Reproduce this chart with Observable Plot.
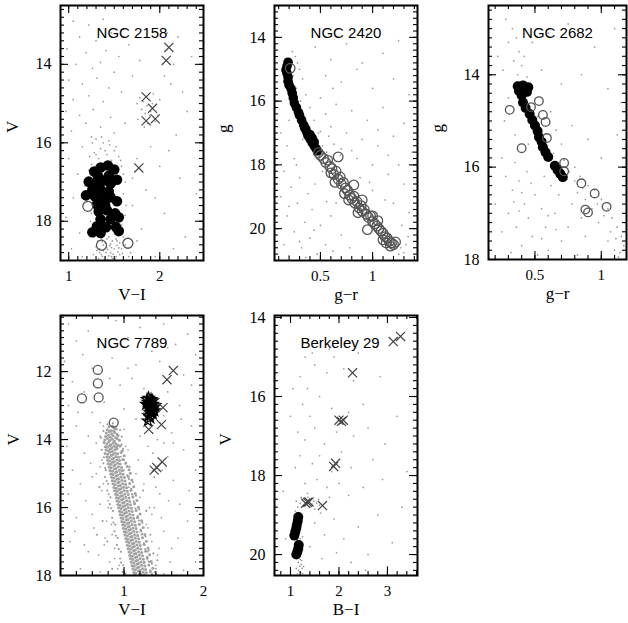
<!DOCTYPE html>
<html><head><meta charset="utf-8">
<script src="https://cdn.jsdelivr.net/npm/d3@7"></script>
<script src="https://cdn.jsdelivr.net/npm/@observablehq/plot@0.6"></script>
<style>
body{margin:0;background:#fff;}
#wrap{position:relative;width:628px;height:623px;overflow:hidden;background:#fff;}
.pan{position:absolute;}
#wrap svg, #wrap svg text{font-family:"Liberation Serif", "Times New Roman", serif;}
#wrap svg text.ttl{font-family:"Liberation Sans", Arial, sans-serif;}
</style></head><body><div id="wrap"></div>
<script>
// ---------- NGC 2158 ----------
const bg2158 = [[1.05,12.9],[1.22,13.0],[1.38,12.85],[1.6,13.1],[1.12,13.3],[1.3,13.4],[1.47,13.2],[0.98,13.6],[1.19,13.7],[1.41,13.65],[1.55,13.8],[1.08,14.0],[1.26,14.1],[1.35,13.95],[1.5,14.2],[1.0,14.4],[1.15,14.5],[1.31,14.35],[1.44,14.6],[1.22,14.8],[1.05,14.9],[1.38,14.95],[1.58,14.7],[0.97,15.2],[1.12,15.3],[1.27,15.15],[1.46,15.35],[1.19,15.5],[1.35,15.6],[1.03,15.7],[1.5,15.75],[1.25,15.85],[1.62,15.5],[1.7,14.3],[1.66,13.5],[1.78,13.9],
[1.78,14.85],[1.82,14.95],[1.86,15.05],[1.8,15.15],[1.84,15.25],[1.89,15.3],[1.92,15.0],[1.95,15.45],[1.87,15.5],[1.76,15.4],[1.9,15.2],[1.83,15.6],[1.98,15.3],[2.0,14.9],[1.75,15.0],[1.93,14.75],
[2.05,14.3],[2.12,14.5],[2.15,14.0],[2.2,13.3],[2.08,13.2],[2.25,14.7],[2.18,15.8],[2.3,15.2],[2.35,13.8],[2.1,16.2],[2.22,16.9],[2.4,17.3],[2.05,17.8],[2.28,18.4],[1.95,18.9],[2.15,18.7],[1.9,16.1],[1.75,16.4],[1.85,17.2],[1.7,17.6],[1.8,18.2],[1.68,18.8],[2.0,16.6],[1.95,17.4],
[1.3,15.9],[1.38,16.0],[1.45,16.05],[1.35,16.15],[1.28,16.25],[1.42,16.3],[1.5,16.2],[1.33,16.4],[1.47,16.45],[1.55,16.35],[1.25,16.55],[1.58,16.6],[1.6,16.8],[1.22,16.7],[1.62,17.0],[1.18,17.1],[1.6,17.3],[1.2,17.5],[1.63,17.6],[1.25,17.8],[1.62,17.85],[1.24,18.0],[1.58,18.1],[1.28,18.4],[1.32,18.5],[1.36,18.45],[1.4,18.55],[1.44,18.4],[1.48,18.5],[1.52,18.45],[1.56,18.55],[1.6,18.4],[1.3,18.65],[1.34,18.7],[1.38,18.75],[1.42,18.68],[1.46,18.8],[1.5,18.7],[1.54,18.78],[1.58,18.7],[1.36,18.85],[1.4,18.92],[1.44,18.88],[1.48,18.95],[1.52,18.9],[1.56,18.85],[1.33,18.95],[1.38,18.6],[1.45,18.62],[1.53,18.62],[1.41,18.8],[1.47,18.67],[1.43,18.97],[1.35,18.35],[1.5,18.32],[1.62,18.6],[1.27,18.85],[1.66,18.9],[1.55,16.9],[1.3,16.3],[1.4,16.2],
[1.37,18.52],[1.43,18.72],[1.49,18.84],[1.39,18.98],[1.46,18.58],[1.51,18.96],[1.34,18.8],[1.55,18.68],[1.42,18.45],[1.37,18.9],[1.47,18.9],[1.53,18.5],[1.31,18.75],[1.59,18.82],[1.26,16.0],[1.36,15.85],[1.44,15.95],[1.52,16.1],[1.23,16.35],[1.57,16.45],
[1.0,16.4],[1.1,16.8],[1.05,17.4],[0.97,17.9],[1.12,18.3],[1.03,18.7],[1.15,16.1],[1.7,16.9],[1.75,18.5],[1.15,18.9]];
const black2158 = [[1.28,16.73],[1.35,16.63],[1.43,16.58],[1.5,16.68],[1.32,16.84],[1.44,16.84],[1.22,16.99],[1.3,17.01],[1.39,16.96],[1.46,17.04],[1.53,16.94],[1.26,17.19],[1.35,17.19],[1.44,17.24],[1.19,17.34],[1.29,17.37],[1.37,17.42],[1.46,17.39],[1.53,17.49],[1.31,17.57],[1.4,17.59],[1.33,17.75],[1.42,17.72],[1.51,17.8],[1.35,17.95],[1.46,17.95],[1.55,17.9],[1.31,18.13],[1.41,18.15],[1.52,18.15],[1.26,18.28],[1.35,18.3],[1.55,18.25]];
const open2158 = [[1.21,17.62],[1.36,18.61],[1.65,18.56]];
const cross2158 = [[2.1,13.57],[2.07,13.9],[1.85,14.83],[1.92,15.12],[1.85,15.44],[1.95,15.39],[1.77,16.64]];

// ---------- NGC 2420 ----------
const bg2420 = [[0.23,14.45],[0.26,14.6],[0.28,14.8],[0.3,15.0],[0.24,15.2],[0.33,15.3],[0.27,15.6],[0.36,15.8],[0.31,16.0],[0.4,16.2],[0.35,16.5],[0.44,16.6],[0.4,16.9],[0.48,17.0],[0.45,17.3],[0.52,17.4],[0.56,17.6],[0.6,17.9],[0.64,18.0],[0.68,18.3],[0.72,18.5],[0.76,18.6],[0.8,18.8],[0.84,19.0],[0.87,19.1],[0.91,19.3],[0.95,19.4],[0.99,19.6],[1.03,19.7],[1.07,19.9],[1.11,20.0],[1.15,20.2],[1.19,20.3],[1.23,20.5],[1.27,20.6],[1.3,20.75],[1.25,20.8],[1.2,20.65],[1.32,20.5],
[0.45,14.3],[0.6,14.7],[0.75,14.2],[0.95,13.9],[1.1,14.5],[1.25,14.1],[0.55,15.2],[0.7,15.4],[0.85,15.0],[1.0,15.6],[1.2,15.3],[1.35,15.8],[0.5,15.9],[0.65,16.1],[0.8,16.3],[0.95,16.6],[1.1,16.2],[1.3,16.7],[0.6,16.8],[0.75,17.0],[0.9,17.2],[1.05,17.4],[1.2,17.1],[1.38,17.6],[0.7,17.5],[0.85,17.8],[1.0,18.0],[1.15,18.3],[1.3,18.6],[1.0,18.8],[1.2,19.2],[1.35,19.5],[0.55,16.4],[0.62,15.6],[0.9,14.8],[1.05,16.9],[1.25,18.0],
[0.12,17.0],[0.18,17.4],[0.25,17.8],[0.15,18.2],[0.3,18.4],[0.22,18.7],[0.38,18.9],[0.12,19.0],[0.28,19.2],[0.42,19.4],[0.18,19.6],[0.35,19.8],[0.5,19.9],[0.1,20.0],[0.25,20.1],[0.4,20.3],[0.55,20.5],[0.15,20.5],[0.32,20.6],[0.47,20.8],[0.62,20.7],[0.2,20.85],[0.7,20.2],[0.6,19.6],[0.45,18.6],[0.33,17.2],[0.1,16.0],[0.15,15.4],[0.2,16.6],[0.08,18.6],[0.36,20.9],[0.78,20.6],[0.65,19.2],[0.52,18.2],
[0.55,17.8],[0.62,18.15],[0.7,18.45],[0.78,18.75],[0.86,19.2],[0.93,19.5],[1.01,19.8],[1.09,20.1],[1.17,20.4],[0.66,18.5],[0.74,18.9],[0.82,19.25],[0.9,19.6],[0.98,19.9],[1.06,20.2],[1.14,20.5],
[0.58,17.1],[0.63,17.35],[0.69,17.7],[0.5,16.95],[0.27,18.0],[0.2,19.3],[0.44,20.05],[0.3,20.4],[0.56,19.15],[0.88,18.4],[0.97,18.55],[1.12,19.1],[1.28,19.9],[1.34,20.25],[0.8,17.55],[1.15,17.7]];
const black2420 = [[0.19,14.78],[0.18,14.9],[0.17,15.02],[0.18,15.13],[0.19,15.25],[0.19,15.38],[0.2,15.5],[0.22,15.62],[0.23,15.75],[0.24,15.9],[0.25,16.06],[0.27,16.2],[0.29,16.35],[0.3,16.45],[0.32,16.6],[0.34,16.75],[0.35,16.85],[0.37,16.98],[0.38,17.08],[0.4,17.18],[0.42,17.3],[0.44,17.4],[0.46,17.5],[0.47,17.56],[0.36,16.88],[0.4,17.05],[0.42,17.15],[0.44,17.28]];
const open2420 = [[0.21,14.97],[0.48,17.62],[0.5,17.7],[0.53,17.8],[0.55,17.92],[0.57,17.85],[0.59,18.05],[0.61,18.12],[0.6,18.25],[0.63,18.3],[0.65,18.2],[0.67,18.45],[0.69,18.38],[0.7,18.6],[0.72,18.55],[0.74,18.72],[0.76,18.8],[0.73,18.9],[0.78,18.95],[0.8,19.05],[0.82,18.98],[0.83,19.2],[0.85,19.15],[0.87,19.35],[0.89,19.28],[0.9,19.45],[0.92,19.4],[0.94,19.55],[0.96,19.65],[0.98,19.6],[1.0,19.78],[1.02,19.85],[1.04,19.92],[1.06,20.0],[1.08,20.08],[1.1,20.15],[1.12,20.25],[1.14,20.3],[1.16,20.4],[1.18,20.45],[1.2,20.5],[1.17,20.55],[1.22,20.42],[1.13,20.45],[0.67,17.75],[0.82,18.63],[0.9,19.1],[0.95,20.03],[1.0,19.6],[1.05,19.75],[0.64,18.55],[0.86,19.5],[0.77,19.1],[1.1,20.35]];

// ---------- NGC 2682 ----------
const bg2682 = [[0.28,12.8],[0.33,13.0],[0.3,13.3],[0.36,13.2],[0.38,13.5],[0.34,13.7],[0.4,13.8],[0.42,13.6],[0.37,14.0],[0.44,14.05],[0.26,13.9],[0.22,13.6],[0.48,13.3],[0.6,13.1],[0.75,12.9],[0.95,13.4],[1.1,13.0],[0.55,13.9],[0.7,14.2],[0.85,14.0],[1.05,14.3],[1.15,14.6],
[0.3,14.5],[0.27,15.0],[0.35,15.3],[0.45,15.5],[0.25,15.8],[0.52,14.9],[0.62,14.8],[0.66,15.2],[0.7,15.5],[0.78,15.1],[0.9,15.4],[1.0,15.8],[1.12,15.3],[0.64,15.7],[0.72,15.85],[0.8,16.0],[0.84,16.2],[0.9,16.4],[0.95,16.5],[1.0,16.7],[1.05,16.9],[1.08,17.1],[1.12,17.3],[1.15,17.5],[1.17,17.7],[1.1,17.8],[1.05,17.6],[0.98,17.2],[0.93,16.9],[0.88,16.7],[0.82,16.55],[1.13,17.95],[1.18,17.2],
[0.28,16.2],[0.33,16.5],[0.38,16.3],[0.42,16.8],[0.3,17.0],[0.36,17.3],[0.45,17.1],[0.5,16.6],[0.55,16.9],[0.48,17.5],[0.58,17.3],[0.62,16.4],[0.65,17.0],[0.7,17.6],[0.4,17.7],[0.32,17.85],[0.52,17.9],[0.6,17.8],[0.75,17.3],[0.78,16.8],[0.68,16.6],[0.44,16.1],[0.35,15.9],[0.57,16.2],[0.25,17.4],[0.2,16.8],[0.82,17.9],[0.88,17.5],[0.72,16.2],[0.53,15.6],[0.47,16.35],[0.6,17.05],[0.38,16.95],[0.66,17.35],[0.85,17.1],
[0.86,16.45],[0.97,16.8],[1.02,17.05],[1.07,17.4],[1.11,17.55],[1.14,17.85],[0.92,16.62],[0.76,16.1],[0.8,16.3],[0.4,16.55],[0.55,17.55],[0.34,16.75]];
const black2682 = [[0.37,14.25],[0.41,14.23],[0.45,14.27],[0.38,14.35],[0.44,14.37],[0.4,14.45],[0.41,14.6],[0.43,14.72],[0.46,14.85],[0.48,14.98],[0.5,15.1],[0.52,15.22],[0.53,15.35],[0.55,15.45],[0.56,15.57],[0.58,15.68],[0.6,15.78],[0.65,15.97],[0.67,16.06],[0.69,16.14],[0.71,16.22]];
const open2682 = [[0.53,14.57],[0.31,14.76],[0.47,14.7],[0.56,14.87],[0.58,15.02],[0.59,15.37],[0.4,15.59],[0.72,15.91],[0.72,16.09],[0.85,16.35],[0.95,16.57],[1.04,16.86],[0.88,16.92],[0.9,16.98]];

// ---------- NGC 7789 ----------
const ms7789 = [[0.81,13.62],[0.855,13.6],[0.875,13.67],[0.79,13.71],[0.833,13.73],[0.868,13.75],[0.902,13.69],[0.776,13.81],[0.814,13.77],[0.842,13.83],[0.883,13.79],[0.912,13.85],[0.768,13.91],[0.803,13.87],[0.828,13.93],[0.861,13.89],[0.894,13.95],[0.924,13.88],[0.758,14.01],[0.792,13.97],[0.821,14.03],[0.853,13.99],[0.879,14.05],[0.915,13.98],[0.943,14.02],
[0.748,14.09],[0.782,14.13],[0.806,14.07],[0.834,14.15],[0.862,14.1],[0.896,14.12],[0.925,14.17],[0.763,14.21],[0.789,14.23],[0.818,14.18],[0.845,14.25],[0.873,14.2],[0.904,14.22],[0.951,14.19],[0.772,14.31],[0.803,14.33],[0.827,14.28],[0.852,14.35],[0.884,14.3],[0.912,14.27],[0.978,14.33],[0.761,14.41],[0.794,14.43],[0.823,14.37],[0.857,14.45],[0.886,14.4],[0.918,14.42],[0.962,14.38],[0.782,14.51],[0.812,14.53],[0.838,14.47],[0.866,14.55],[0.898,14.5],[0.932,14.52],[1.003,14.48],
[0.793,14.61],[0.822,14.63],[0.851,14.57],[0.877,14.65],[0.909,14.6],[0.943,14.62],[0.984,14.59],[0.801,14.71],[0.832,14.73],[0.858,14.67],[0.888,14.75],[0.918,14.7],[0.951,14.72],[1.022,14.69],[0.812,14.81],[0.838,14.83],[0.871,14.77],[0.899,14.85],[0.929,14.8],[0.968,14.82],[1.041,14.79],[0.822,14.91],[0.853,14.93],[0.878,14.87],[0.907,14.95],[0.942,14.9],[0.978,14.92],[1.062,14.89],
[0.832,15.01],[0.861,15.03],[0.893,14.97],[0.918,15.05],[0.951,15.0],[0.987,15.02],[1.078,14.99],[0.843,15.11],[0.872,15.13],[0.898,15.07],[0.931,15.15],[0.962,15.1],[1.003,15.12],[1.052,15.09],[0.852,15.21],[0.883,15.23],[0.911,15.17],[0.938,15.25],[0.972,15.2],[1.012,15.22],[1.098,15.19],[0.861,15.31],[0.889,15.33],[0.922,15.27],[0.952,15.35],[0.981,15.3],[1.019,15.32],[1.071,15.29],[0.872,15.41],[0.901,15.43],[0.928,15.37],[0.961,15.45],[0.992,15.4],[1.032,15.42],[1.122,15.39],
[0.882,15.51],[0.912,15.53],[0.939,15.47],[0.968,15.55],[1.002,15.5],[1.041,15.52],[1.088,15.49],[0.893,15.61],[0.918,15.63],[0.951,15.57],[0.981,15.65],[1.011,15.6],[1.052,15.62],[1.141,15.59],[0.902,15.71],[0.932,15.73],[0.958,15.67],[0.991,15.75],[1.022,15.7],[1.062,15.72],[1.112,15.69],[0.911,15.81],[0.941,15.83],[0.969,15.77],[1.001,15.85],[1.032,15.8],[1.071,15.82],[1.162,15.79],[0.922,15.91],[0.949,15.93],[0.982,15.87],[1.012,15.95],[1.042,15.9],[1.081,15.92],[1.132,15.89],
[0.931,16.01],[0.962,16.03],[0.988,15.97],[1.021,16.05],[1.052,16.0],[1.092,16.02],[1.181,15.99],[0.942,16.11],[0.969,16.13],[1.001,16.07],[1.029,16.15],[1.061,16.1],[1.101,16.12],[1.152,16.09],[0.951,16.21],[0.982,16.23],[1.008,16.17],[1.041,16.25],[1.072,16.2],[1.112,16.22],[1.202,16.19],[0.962,16.31],[0.988,16.33],[1.021,16.27],[1.049,16.35],[1.082,16.3],[1.121,16.32],[1.172,16.29],[0.971,16.41],[1.002,16.43],[1.028,16.37],[1.061,16.45],[1.092,16.4],[1.132,16.42],[1.222,16.39],
[0.982,16.51],[1.009,16.53],[1.042,16.47],[1.068,16.55],[1.101,16.5],[1.142,16.52],[1.192,16.49],[0.991,16.61],[1.022,16.63],[1.048,16.57],[1.081,16.65],[1.112,16.6],[1.151,16.62],[1.242,16.59],[1.002,16.71],[1.028,16.73],[1.061,16.67],[1.089,16.75],[1.122,16.7],[1.162,16.72],[1.212,16.69],[1.011,16.81],[1.042,16.83],[1.068,16.77],[1.101,16.85],[1.132,16.8],[1.171,16.82],[1.262,16.79],[1.022,16.91],[1.049,16.93],[1.081,16.87],[1.109,16.95],[1.142,16.9],[1.182,16.92],[1.232,16.89],
[1.031,17.01],[1.062,17.03],[1.088,16.97],[1.121,17.05],[1.152,17.0],[1.192,17.02],[1.282,16.99],[1.042,17.11],[1.069,17.13],[1.101,17.07],[1.129,17.15],[1.162,17.1],[1.202,17.12],[1.252,17.09],[1.051,17.21],[1.082,17.23],[1.108,17.17],[1.141,17.25],[1.172,17.2],[1.212,17.22],[1.302,17.19],[1.062,17.31],[1.088,17.33],[1.121,17.27],[1.149,17.35],[1.182,17.3],[1.221,17.32],[1.272,17.29],[1.071,17.41],[1.102,17.43],[1.128,17.37],[1.161,17.45],[1.192,17.4],[1.232,17.42],[1.322,17.39],
[1.082,17.51],[1.109,17.53],[1.142,17.47],[1.168,17.55],[1.201,17.5],[1.242,17.52],[1.292,17.49],[1.091,17.61],[1.122,17.63],[1.148,17.57],[1.181,17.65],[1.212,17.6],[1.251,17.62],[1.342,17.59],[1.102,17.71],[1.128,17.73],[1.161,17.67],[1.189,17.75],[1.222,17.7],[1.262,17.72],[1.312,17.69],[1.111,17.81],[1.142,17.83],[1.168,17.77],[1.201,17.85],[1.232,17.8],[1.271,17.82],[1.362,17.79],[1.122,17.91],[1.149,17.93],[1.181,17.87],[1.209,17.95],[1.242,17.9],[1.282,17.92],[1.332,17.89],[1.131,17.98],[1.192,17.97],[1.252,17.98]];
const msEdge7789 = [[0.72,14.3],[0.74,14.7],[0.76,15.1],[0.79,15.5],[0.82,15.9],[0.85,16.3],[0.88,16.7],[0.91,17.1],[0.95,17.5],[0.98,17.9],[0.97,14.15],[1.0,14.6],[1.04,15.05],[1.09,15.45],[1.13,15.85],[1.17,16.25],[1.21,16.65],[1.25,17.05],[1.29,17.45],[1.33,17.85],[0.77,14.9],[0.8,15.3],[0.83,15.7],[0.86,16.1],[0.89,16.5],[0.92,16.9],[0.96,17.3],[0.99,17.7],[1.07,14.8],[1.11,15.25],[1.15,15.65],[1.19,16.05],[1.23,16.45],[1.27,16.85],[1.31,17.25],[1.35,17.65],[1.4,17.95],[1.02,17.95],[1.24,15.5],[1.28,16.1],[1.33,16.8],[1.37,17.35],[1.42,17.55],[0.73,16.4],[0.79,17.0],[0.85,17.8],[0.69,15.4],[0.66,16.8],
[0.745,14.52],[0.762,14.84],[0.781,15.22],[0.807,15.61],[0.838,16.02],[0.866,16.44],[0.897,16.83],[0.934,17.22],[0.962,17.62],[0.993,17.84],[0.986,14.27],[1.018,14.71],[1.061,15.16],[1.104,15.62],[1.143,16.03],[1.186,16.38],[1.228,16.78],[1.267,17.22],[1.308,17.58],[1.352,17.96],[0.71,13.95],[0.74,13.75],[0.95,13.72],[0.97,13.92],[0.79,13.55],[0.86,13.52]];
const field7789 = [[0.3,10.6],[0.55,10.8],[0.9,10.5],[1.2,10.7],[1.5,10.6],[1.8,10.9],[0.4,11.1],[0.75,11.3],[1.05,11.0],[1.35,11.4],[1.65,11.2],[1.9,11.5],[0.25,11.7],[0.6,11.9],[0.85,11.6],[1.15,11.8],[1.45,11.7],[1.75,12.1],[0.35,12.3],[0.5,12.6],[0.95,12.4],[1.1,12.2],[1.25,12.5],[1.55,12.6],[1.85,12.4],[0.3,13.0],[0.6,13.2],[0.75,12.9],[1.0,13.1],[1.15,13.4],[1.5,13.3],[1.7,13.0],[1.95,13.2],[0.4,13.6],[0.55,13.9],[0.7,13.5],[1.0,13.7],[1.2,13.9],[1.6,13.8],[1.85,13.6],[0.28,14.2],[0.5,14.4],[0.65,14.1],[1.05,14.3],[1.18,14.6],[1.3,14.2],[1.55,14.5],[1.75,14.3],[0.35,14.9],[0.6,15.1],[0.7,14.8],[1.15,15.0],[1.25,15.3],[1.38,15.1],[1.62,15.2],[1.9,14.9],[0.3,15.6],[0.52,15.8],[0.72,15.5],[0.8,16.0],[1.2,15.7],[1.32,16.0],[1.45,15.6],[1.7,15.9],[0.4,16.3],[0.62,16.6],[0.78,16.4],[0.85,16.8],[1.28,16.5],[1.35,16.2],[1.5,16.7],[1.8,16.4],[0.32,17.0],[0.55,17.3],[0.75,17.1],[0.88,17.5],[1.35,17.0],[1.42,17.4],[1.6,17.2],[1.9,17.6],[0.45,17.8],[0.7,17.9],[0.92,17.8],[1.4,17.8],[1.5,17.95],[1.75,17.85],
[1.3,12.7],[1.4,12.9],[1.45,13.5],[1.36,13.8],[1.25,13.2],[1.42,14.0],[1.5,14.1],[1.36,14.4],[1.48,14.9],[1.4,15.4],[1.56,15.8],[1.3,16.6],[1.44,17.2],[1.38,16.0],[1.26,17.6],[1.47,16.3],
[0.96,14.5],[1.0,14.9],[1.06,15.4],[1.12,15.8],[1.16,16.3],[1.22,16.8],[1.26,17.1],[1.32,17.6],[1.38,17.9],[1.02,14.2],[1.1,15.6],[1.2,16.5],[1.3,17.3],[1.4,17.7],
[0.72,14.6],[0.74,15.3],[0.8,15.8],[0.84,16.5],[0.88,17.2],[0.94,17.7],[0.7,15.9],[0.76,16.9],[0.82,17.6],[0.68,17.4],[0.65,15.0],[0.6,16.2],[0.7,13.9],[0.74,13.6],
[0.45,15.3],[0.38,16.7],[0.5,17.1],[0.58,14.7],[0.42,13.2],[0.62,12.4],[1.62,14.1],[1.68,16.9],[1.58,17.6],[1.82,15.5],[1.92,16.1],[1.72,13.4],[1.55,11.3],[1.05,11.9],[0.82,12.2],[0.48,11.5]];
const open7789 = [[0.67,11.95],[0.67,12.35],[0.68,12.76],[0.47,12.79],[0.87,13.5]];
const star7789 = [[1.29,12.82],[1.31,12.78],[1.34,12.82],[1.36,12.86],[1.3,12.9],[1.33,12.92],[1.36,12.96],[1.31,13.0],[1.34,13.02],[1.37,13.06],[1.32,13.1],[1.35,13.12],[1.38,13.15],[1.33,13.2],[1.36,13.24],[1.31,13.3],[1.33,13.36],[1.3,13.45],[1.39,13.0],[1.28,12.96],[1.32,13.05],[1.35,13.17]];
const cross7789 = [[1.62,11.97],[1.54,12.24],[1.49,13.06],[1.47,13.56],[1.31,13.7],[1.48,14.66],[1.41,14.82],[1.38,14.9]];

// ---------- Berkeley 29 ----------
const bgB29 = [[1.15,19.95],[1.18,20.05],[1.2,20.12],[1.16,20.2],[1.22,20.25],[1.19,20.3],[1.24,20.35],[1.17,20.4],[1.21,20.45],[1.25,20.48],[1.2,20.52],[1.14,20.5],[1.23,20.15],[1.27,20.3],[1.12,20.35],[1.18,19.85],[1.22,19.7],[1.2,19.6],[1.14,19.45],[1.25,19.55],
[1.1,18.9],[1.15,18.8],[1.2,18.7],[1.25,18.62],[1.3,18.58],[1.36,18.55],[1.42,18.6],[1.48,18.65],[1.54,18.7],[1.6,18.75],[1.28,18.75],[1.4,18.8],[1.5,18.85],[1.22,18.55],[1.33,18.68],[1.45,18.72],[1.18,18.95],[1.35,18.45],[1.58,18.6],[1.08,19.0],[1.12,18.65],
[1.3,15.0],[1.2,15.5],[1.5,15.2],[1.35,15.8],[1.75,15.4],[1.9,15.0],[2.1,15.3],[2.3,15.6],[1.25,16.2],[1.4,16.5],[1.6,16.0],[1.85,16.3],[2.2,16.4],[2.5,16.2],[1.15,16.9],[1.3,17.1],[1.5,16.8],[1.7,17.2],[1.95,16.9],[2.3,17.0],[2.6,16.8],[1.2,17.5],[1.45,17.7],[1.6,17.5],[1.85,17.9],[2.05,17.4],[2.25,17.8],[2.7,17.6],[1.3,18.2],[1.55,18.1],[1.75,18.3],[2.0,18.2],[2.2,18.5],[2.5,18.3],[2.9,18.1],[1.5,19.2],[1.7,19.5],[1.9,19.1],[2.1,19.6],[2.4,19.3],[2.8,19.0],[1.4,19.8],[1.65,20.1],[1.95,19.95],[2.25,20.2],[2.6,20.0],[3.1,19.7],[3.3,18.8],[2.95,17.2],[3.2,16.5],[2.85,15.5],[1.05,15.8],[1.1,17.8],[1.45,14.9],[1.25,14.6],[1.8,14.8],[3.0,20.3],[2.55,20.4],[0.9,19.6],[0.85,18.4],[1.0,16.5],[1.62,18.95],[1.8,18.55],[2.4,14.9],[3.4,17.9]];
const blackB29 = [[1.16,19.05],[1.15,19.15],[1.13,19.25],[1.12,19.33],[1.1,19.42],[1.08,19.52],[1.17,19.76],[1.16,19.85],[1.14,19.93],[1.12,20.0]];
const crossB29 = [[3.27,14.48],[3.12,14.61],[2.28,15.4],[2.0,16.6],[2.05,16.63],[2.09,16.6],[1.93,17.69],[1.89,17.77],[1.31,18.7],[1.35,18.68],[1.38,18.67],[1.66,18.76]];

// ---------- helpers ----------
function minorTicks(lo, hi, step) {
  const out = [];
  const n0 = Math.ceil(lo / step - 1e-6), n1 = Math.floor(hi / step + 1e-6);
  for (let i = n0; i <= n1; i++) out.push(+(i * step).toFixed(4));
  return out.filter(v => v > lo + 1e-6 && v < hi - 1e-6);
}
const SERIF = "Liberation Serif";
const X = d => d[0], Y = d => d[1];
const gray = (data, r = 0.85, fill = "#999") => Plot.dot(data, {x: X, y: Y, r, fill, stroke: null});
const blackDots = (data, r = 5) => Plot.dot(data, {x: X, y: Y, r, fill: "black", stroke: null});
const openDots = (data, r = 4.6) => Plot.dot(data, {x: X, y: Y, r, fill: "none", stroke: "#555", strokeWidth: 1.3});
const crosses = (data) => Plot.dot(data, {x: X, y: Y, r: 4.2, symbol: "times", stroke: "#444", strokeWidth: 1.2});

function panel(c) {
  const iw = c.width - c.ml - c.mr, ih = c.height - c.mt - c.mb;
  const xMin = minorTicks(c.xd[0], c.xd[1], c.xStep);
  const yMin = minorTicks(c.yd[0], c.yd[1], c.yStep);
  const majL = 8, minL = 4;
  const tk = {stroke: "black", strokeWidth: 1.1};
  const tickMarks = [
    Plot.tickX(xMin, {x: d => d, insetTop: ih - minL, ...tk}),
    Plot.tickX(xMin, {x: d => d, insetBottom: ih - minL, ...tk}),
    Plot.tickX(c.xMaj, {x: d => d, insetTop: ih - majL, ...tk}),
    Plot.tickX(c.xMaj, {x: d => d, insetBottom: ih - majL, ...tk}),
    Plot.tickY(yMin, {y: d => d, insetRight: iw - minL, ...tk}),
    Plot.tickY(yMin, {y: d => d, insetLeft: iw - minL, ...tk}),
    Plot.tickY(c.yMaj, {y: d => d, insetRight: iw - majL, ...tk}),
    Plot.tickY(c.yMaj, {y: d => d, insetLeft: iw - majL, ...tk})
  ];
  const svg = Plot.plot({
    width: c.width, height: c.height,
    marginLeft: c.ml, marginRight: c.mr, marginTop: c.mt, marginBottom: c.mb,
    style: {background: "transparent", fontFamily: SERIF, fontSize: "16px", overflow: "visible", color: "black"},
    x: {domain: c.xd},
    y: {domain: c.yd, reverse: true},
    marks: [
      ...c.marks,
      ...tickMarks,
      Plot.frame({stroke: "black", strokeWidth: 2}),
      Plot.axisX(c.xMaj, {anchor: "bottom", tickSize: 0, tickPadding: 10, tickFormat: d => String(d), label: null, fontFamily: SERIF, fontSize: 15}),
      Plot.axisY(c.yMaj, {anchor: "left", tickSize: 0, tickPadding: 9, tickFormat: d => String(d), label: null, fontFamily: SERIF, fontSize: 16}),
      Plot.text([c.xLabel], {text: d => d, frameAnchor: "bottom", dy: 39, fontFamily: SERIF, fontSize: 17}),
      Plot.text([c.yLabel], {text: d => d, frameAnchor: "left", dx: c.yLabelDx, rotate: -90, fontFamily: SERIF, fontSize: 17}),
      Plot.text([c.title], {text: d => d, frameAnchor: "top", dy: 22, dx: c.titleDx || 0, fontFamily: "Liberation Sans", fontSize: 15})
    ]
  });
  svg.querySelectorAll("text").forEach(t => {
    if (t.textContent === c.title) t.classList.add("ttl");
  });
  const div = document.createElement("div");
  div.className = "pan";
  div.style.left = c.left + "px";
  div.style.top = c.top + "px";
  div.appendChild(svg);
  document.getElementById("wrap").appendChild(div);
}

panel({left: 0, top: 0, width: 210, height: 310, ml: 60, mr: 7, mt: 5, mb: 50,
  xd: [0.91, 2.48], yd: [12.5, 19], xMaj: [1, 2], xStep: 0.1, yMaj: [14, 16, 18], yStep: 0.2,
  xLabel: "V−I", yLabel: "V", yLabelDx: -48, title: "NGC 2158",
  marks: [gray(bg2158), blackDots(black2158, 5.3), openDots(open2158, 5), crosses(cross2158)]});

panel({left: 210, top: 0, width: 210, height: 310, ml: 64, mr: 3, mt: 5, mb: 50,
  xd: [0.06, 1.43], yd: [13, 21], xMaj: [0.5, 1], xStep: 0.1, yMaj: [14, 16, 18, 20], yStep: 0.2,
  xLabel: "g−r", yLabel: "g", yLabelDx: -51, title: "NGC 2420",
  marks: [gray(bg2420), blackDots(black2420, 4.8), openDots(open2420, 4.8)]});

panel({left: 420, top: 0, width: 208, height: 310, ml: 68, mr: 2, mt: 5, mb: 51,
  xd: [0.15, 1.19], yd: [12.5, 18], xMaj: [0.5, 1], xStep: 0.1, yMaj: [14, 16, 18], yStep: 0.2,
  xLabel: "g−r", yLabel: "g", yLabelDx: -51, title: "NGC 2682",
  marks: [gray(bg2682), blackDots(black2682, 5), openDots(open2682, 4.3)]});

panel({left: 0, top: 310, width: 210, height: 313, ml: 60, mr: 7, mt: 5, mb: 48,
  xd: [0.2, 2.0], yd: [10.35, 18], xMaj: [1, 2], xStep: 0.2, yMaj: [12, 14, 16, 18], yStep: 0.2,
  xLabel: "V−I", yLabel: "V", yLabelDx: -47, title: "NGC 7789",
  marks: [gray(field7789), gray(msEdge7789, 1.05), gray(ms7789, 1.5, "#a2a2a2"), openDots(open7789, 4.5),
    Plot.dot(star7789, {x: X, y: Y, r: 3.6, symbol: "star", fill: "none", stroke: "black", strokeWidth: 1.2}),
    crosses(cross7789)]});

panel({left: 210, top: 310, width: 210, height: 313, ml: 64, mr: 3, mt: 5, mb: 48,
  xd: [0.67, 3.62], yd: [13.95, 20.53], xMaj: [1, 2, 3], xStep: 0.2, yMaj: [14, 16, 18, 20], yStep: 0.2,
  xLabel: "B−I", yLabel: "V", yLabelDx: -49, title: "Berkeley 29", titleDx: -6,
  marks: [gray(bgB29), blackDots(blackB29, 5), crosses(crossB29)]});
</script>
</body></html>
